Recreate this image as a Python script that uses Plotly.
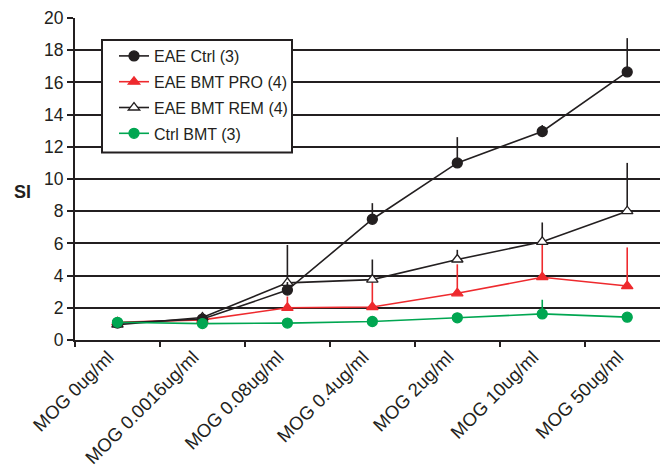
import plotly.graph_objects as go

categories = ["MOG 0ug/ml", "MOG 0.0016ug/ml", "MOG 0.08ug/ml", "MOG 0.4ug/ml",
              "MOG 2ug/ml", "MOG 10ug/ml", "MOG 50ug/ml"]

eae_ctrl = [1.05, 1.3, 3.1, 7.5, 11.0, 12.95, 16.65]
eae_ctrl_err = [0, 0, 0.5, 1.0, 1.6, 0.4, 2.1]

eae_pro = [1.1, 1.25, 2.0, 2.05, 2.9, 3.9, 3.35]
eae_pro_err = [0, 0, 0.7, 1.65, 1.8, 2.2, 2.4]

eae_rem = [0.95, 1.4, 3.55, 3.75, 5.0, 6.1, 8.0]
eae_rem_err = [0, 0, 2.35, 1.25, 0.6, 1.2, 3.0]

ctrl_bmt = [1.1, 1.02, 1.05, 1.15, 1.38, 1.62, 1.42]
ctrl_bmt_err = [0, 0, 0, 0, 0, 0.88, 0]

BLACK = "#231F20"
RED = "#EE2A2E"
GREEN = "#00A651"

W, H = 660, 472
L, R, T, B = 75, 0, 18, 132
PW, PH = W - L - R, H - T - B

fig = go.Figure()

def add(name, y, err, color, symbol, fill, rank):
    fig.add_trace(go.Scatter(
        x=categories, y=y, name=name, mode="lines+markers",
        legendgroup=name, legendrank=rank,
        line=dict(color=color, width=1.6),
        marker=dict(symbol=symbol, size=10, color=fill,
                    line=dict(color=color, width=1.3)),
        error_y=dict(type="data", array=err, arrayminus=[0]*len(err),
                     symmetric=False, color=color, thickness=1.6, width=0),
    ))

add("EAE BMT PRO (4)", eae_pro, eae_pro_err, RED, "triangle-up", RED, 2)
add("EAE BMT REM (4)", eae_rem, eae_rem_err, BLACK, "triangle-up", "white", 3)
add("EAE Ctrl (3)", eae_ctrl, eae_ctrl_err, BLACK, "circle", BLACK, 1)
add("Ctrl BMT (3)", ctrl_bmt, ctrl_bmt_err, GREEN, "circle", GREEN, 4)

def px_x(x):
    return (x - L) / PW

def px_y(y):
    return (H - B - y) / PH

fig.update_layout(
    width=W, height=H,
    margin=dict(l=L, r=R, t=T, b=B, autoexpand=False),
    paper_bgcolor="white", plot_bgcolor="white",
    font=dict(family="Liberation Sans, Arial, sans-serif", color=BLACK, size=17),
    showlegend=True,
    legend=dict(x=px_x(114), y=px_y(39), xanchor="left", yanchor="top",
                bgcolor="rgba(0,0,0,0)", borderwidth=0,
                font=dict(size=16), tracegroupgap=2, traceorder="grouped"),
    xaxis=dict(type="category", range=[-0.5, 6.386], showgrid=False,
               showline=True, linecolor=BLACK, linewidth=2,
               ticks="outside", tickson="boundaries", ticklen=5,
               tickcolor=BLACK, tickwidth=2, tickangle=-45,
               ticklabelshift=-9, ticklabelstandoff=-3,
               tickfont=dict(size=18.5)),
    yaxis=dict(range=[0, 20], dtick=2, showgrid=True, gridcolor=BLACK,
               gridwidth=1.5, zeroline=False, showline=True, linecolor=BLACK,
               linewidth=2, ticks="outside", ticklen=6, tickcolor=BLACK,
               tickwidth=1.5, tickfont=dict(size=17.5)),
    shapes=[dict(type="rect", xref="paper", yref="paper",
                 x0=px_x(102), x1=px_x(292), y0=px_y(40), y1=px_y(152.5),
                 fillcolor="white", line=dict(color=BLACK, width=2),
                 layer="above")],
    annotations=[dict(text="<b>SI</b>", xref="paper", yref="paper",
                      x=px_x(22), y=px_y(192),
                      showarrow=False, font=dict(size=18),
                      xanchor="center", yanchor="middle")],
)

fig.write_html("out.html", config={"displayModeBar": False},
               post_script="document.body.style.margin='0';")
